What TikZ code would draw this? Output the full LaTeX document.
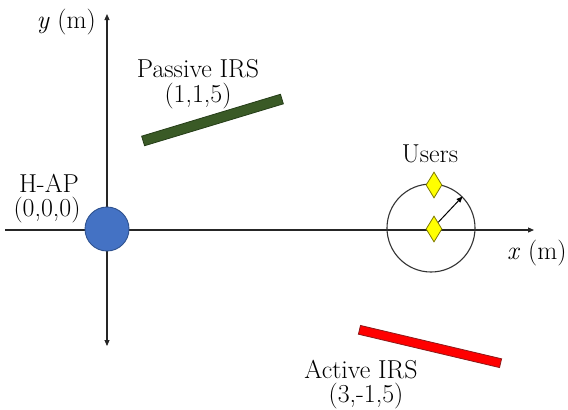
\documentclass[tikz,border=0pt]{standalone}
\usetikzlibrary{shapes.geometric,arrows.meta}

\definecolor{apblue}{HTML}{4472C4}
\definecolor{apedge}{HTML}{2F528F}
\definecolor{irsgreen}{HTML}{3A5A26}
\definecolor{irsgreenedge}{HTML}{253D18}
\definecolor{irsred}{HTML}{FF0000}
\definecolor{irsrededge}{HTML}{8B1A1A}
\definecolor{useryellow}{HTML}{FFFF00}
\definecolor{useredge}{HTML}{7F7A00}

\tikzset{
  axis/.style={line width=1.1bp, draw=black!85, -{Triangle[length=6bp,width=5bp]}},
  lbl/.style={anchor=base, inner sep=0pt, text=black, font=\fontsize{26}{28}\selectfont},
  irsbar/.style={rectangle, minimum width=145bp, minimum height=9bp, inner sep=0pt, line width=0.8bp},
  userdot/.style={diamond, minimum width=16bp, minimum height=26bp, inner sep=0pt,
                  fill=useryellow, draw=useredge, line width=0.8bp},
}

\begin{document}
\begin{tikzpicture}[x=1bp, y=-1bp]
  \useasboundingbox (0,0) rectangle (568,409);

  % axes
  \coordinate (xl) at (5,230);
  \coordinate (xr) at (534,230);
  \coordinate (yt) at (107,14);
  \coordinate (yb) at (107,346);
  \draw[axis] (xl) -- (xr);
  \draw[axis, {Triangle[length=6bp,width=5bp]}-{Triangle[length=6bp,width=5bp]}] (yb) -- (yt);

  \node[lbl, anchor=base east] (ylab) at (96,28) {\textit{y} (m)};
  \node[lbl, anchor=base west] (xlab) at (507,259) {\textit{x} (m)};

  % hybrid access point at the origin
  \node[circle, minimum size=44bp, inner sep=0pt, fill=apblue, draw=apedge, line width=0.9bp] (hap) at (107,229) {};
  \node[lbl] (haptxt) at (49,192) {H-AP};
  \node[lbl] (hapcrd) at (47,216) {(0,0,0)};

  % passive IRS
  \node[irsbar, fill=irsgreen, draw=irsgreenedge, rotate=16.8, minimum height=10bp] (pirs) at (212.5,120) {};
  \node[lbl] (pirstxt) at (198,77) {Passive IRS};
  \node[lbl] (pirscrd) at (198,102) {(1,1,5)};

  % active IRS
  \node[irsbar, fill=irsred, draw=irsrededge, rotate=-13.3] (airs) at (430,346.5) {};
  \node[lbl] (airstxt) at (361,378) {Active IRS};
  \node[lbl] (airscrd) at (366,402) {(3,-1,5)};

  % user region
  \node[circle, minimum size=88bp, inner sep=0pt, draw=black!80, line width=1.1bp] (ucirc) at (431,228) {};
  \node[userdot] (ucenter) at (434,229) {};
  \node[userdot] (uedge) at (434,185) {};
  \draw[line width=1bp, -{Triangle[length=6bp,width=5bp]}] (ucenter.north east) -- (ucirc.45);
  \node[lbl] (utxt) at (430,162) {Users};
\end{tikzpicture}
\end{document}
